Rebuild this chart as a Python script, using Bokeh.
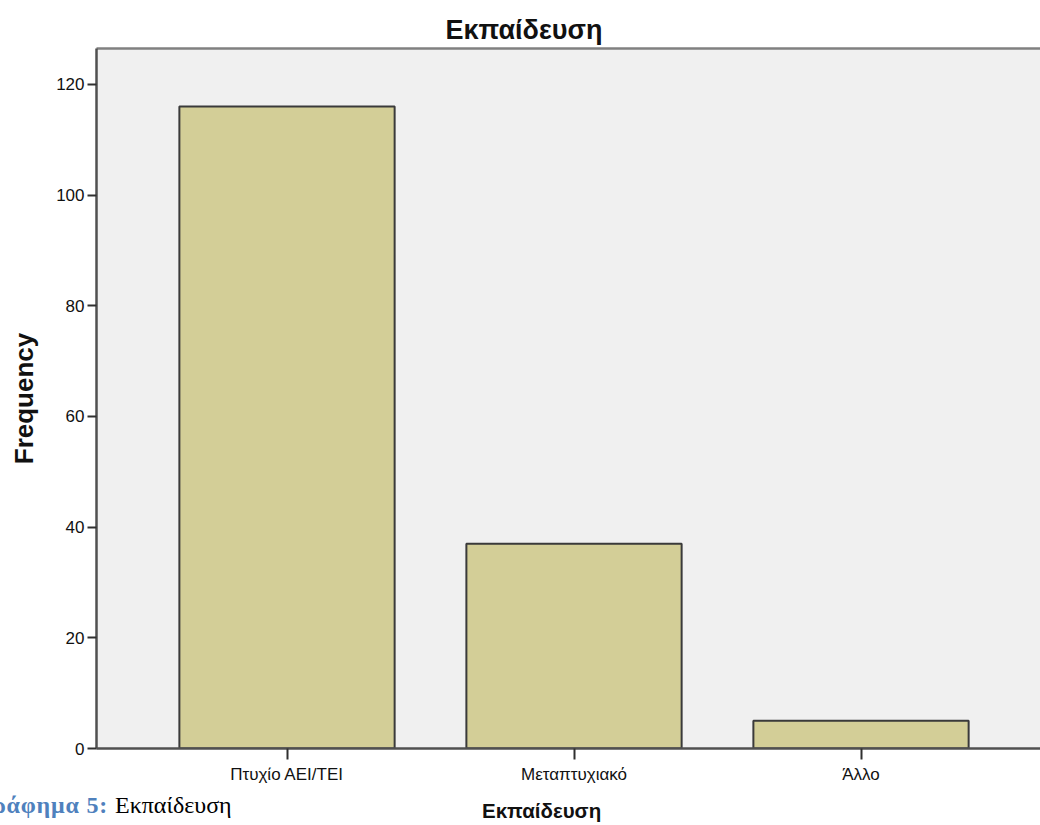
from bokeh.plotting import figure
from bokeh.models import Range1d, FixedTicker, ColumnDataSource, Div, LinearAxis
from bokeh.layouts import column
from bokeh.embed import file_html
from bokeh.resources import INLINE

# ---- data ----
categories = ["Πτυχίο ΑΕΙ/ΤΕΙ", "Μεταπτυχιακό", "Άλλο"]
frequency = [116, 37, 5]
y_ticks = [0, 20, 40, 60, 80, 100, 120]
title_text = "Εκπαίδευση"
x_title = "Εκπαίδευση"
y_title = "Frequency"
caption_label = "Γράφημα 5:"
caption_text = "Εκπαίδευση"

xs = list(range(len(categories)))
src = ColumnDataSource(dict(x=xs, top=frequency))

p = figure(width=1040, height=825, output_backend="svg", toolbar_location=None,
           x_range=Range1d(-0.6638, 2.6254), y_range=Range1d(0, 126.5),
           min_border_left=96, min_border_right=0, min_border_top=48,
           min_border_bottom=77)

p.background_fill_color = "#F0F0F0"
p.border_fill_color = "white"
p.outline_line_color = None
p.grid.visible = False

p.vbar(x="x", top="top", width=0.75, source=src,
       fill_color="#D3CE97", line_color="#3a3a3a", line_width=2)

yax = p.yaxis[0]
xax = p.xaxis[0]
for ax in (yax, xax):
    ax.axis_line_color = "#505050"
    ax.axis_line_width = 2.5
    ax.major_tick_line_color = "#303030"
    ax.major_tick_line_width = 2
    ax.major_tick_in = 0
    ax.minor_tick_line_color = None
    ax.major_label_text_font = "Liberation Sans"
    ax.major_label_text_font_size = "17px"
    ax.major_label_text_color = "#111111"

yax.ticker = FixedTicker(ticks=y_ticks)
yax.major_tick_out = 9
yax.major_label_standoff = 3
yax.axis_label = y_title
yax.axis_label_text_font = "Liberation Sans"
yax.axis_label_text_font_size = "26px"
yax.axis_label_text_font_style = "bold"
yax.axis_label_text_color = "#111111"
yax.axis_label_standoff = 14

xax.ticker = FixedTicker(ticks=xs)
xax.major_label_overrides = {i: c for i, c in enumerate(categories)}
xax.major_tick_out = 11
xax.major_label_standoff = 5

# top frame line as a bare axis (no ticks, no labels)
top_axis = LinearAxis(ticker=FixedTicker(ticks=[]), axis_line_color="#808080",
                      axis_line_width=2.5, major_tick_line_color=None,
                      minor_tick_line_color=None, major_label_text_font_size="0px",
                      major_tick_out=0, major_tick_in=0, major_label_standoff=0)
p.add_layout(top_axis, "above")

# main title
p.title.text = title_text
p.title.align = "left"
p.title.offset = 349
p.title.text_font = "Liberation Sans"
p.title.text_font_size = "27px"
p.title.text_font_style = "bold"
p.title.text_color = "#111111"
p.title.vertical_align = "bottom"
p.title.standoff = 7

# x-axis title and figure caption (caption is partly cut off at the left edge)
bottom_text = Div(
    text=(
        '<div style="position:relative;width:1040px;height:35px;">'
        '<span style="position:absolute;right:932px;top:4px;white-space:nowrap;'
        'font-family:\'Liberation Serif\';font-size:24px;line-height:23px;letter-spacing:0.8px;'
        f'font-weight:bold;color:#4F81BD;">{caption_label}</span>'
        '<span style="position:absolute;left:115px;top:4px;white-space:nowrap;'
        'font-family:\'Liberation Serif\';font-size:24px;line-height:23px;'
        f'color:#000000;">{caption_text}</span>'
        '<span style="position:absolute;left:482px;top:11px;white-space:nowrap;'
        'font-family:\'Liberation Sans\';font-size:20.5px;line-height:20px;'
        f'font-weight:bold;color:#111111;">{x_title}</span>'
        '</div>'
    ),
    width=1040, height=35, margin=(-35, 0, 0, 0))

layout = column(p, bottom_text, spacing=0)
open("out.html", "w").write(file_html(layout, INLINE))
